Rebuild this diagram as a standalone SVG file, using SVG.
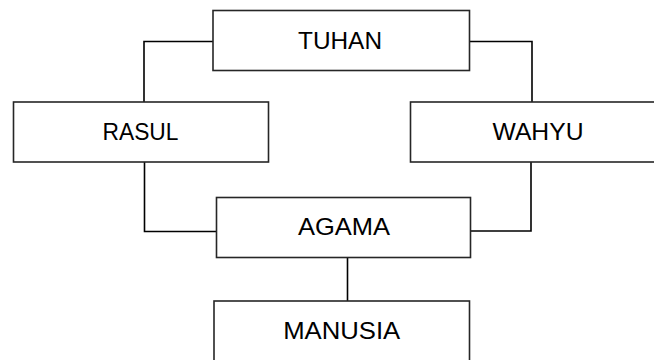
<svg xmlns="http://www.w3.org/2000/svg" width="654" height="360" viewBox="0 0 654 360">
  <style>
    .box { fill: #ffffff; stroke: #262626; stroke-width: 1.6; }
    .lbl { font-family: "Liberation Sans", Arial, sans-serif; font-size: 24px; fill: #000000; text-anchor: middle; }
    .wire { fill: none; stroke: #000000; stroke-width: 1.6; }
  </style>
  <rect width="654" height="360" fill="#ffffff"/>

  <!-- connectors -->
  <g id="connectors">
    <path class="wire" d="M213,41.5 H144 V102"/>
    <path class="wire" d="M469.5,41.5 H532 V102"/>
    <path class="wire" d="M144.5,162 V231.5 H216.5"/>
    <path class="wire" d="M531,162 V231 H470.5"/>
    <path class="wire" d="M347.5,257.5 V301"/>
  </g>

  <g id="tuhan">
    <rect class="box" x="213" y="10.5" width="256.5" height="60"/>
    <text class="lbl" x="340" y="48.5" textLength="84" lengthAdjust="spacingAndGlyphs">TUHAN</text>
  </g>

  <g id="rasul">
    <rect class="box" x="13.5" y="102" width="255" height="60"/>
    <text class="lbl" x="140.5" y="140" textLength="76" lengthAdjust="spacingAndGlyphs">RASUL</text>
  </g>

  <g id="wahyu">
    <rect class="box" x="410.5" y="102" width="260" height="60"/>
    <text class="lbl" x="538" y="140" textLength="91" lengthAdjust="spacingAndGlyphs">WAHYU</text>
  </g>

  <g id="agama">
    <rect class="box" x="216.5" y="197.5" width="254" height="60"/>
    <text class="lbl" x="344" y="234.5" textLength="92" lengthAdjust="spacingAndGlyphs">AGAMA</text>
  </g>

  <g id="manusia">
    <rect class="box" x="214" y="301" width="255.5" height="62"/>
    <text class="lbl" x="341.7" y="339" textLength="117" lengthAdjust="spacingAndGlyphs">MANUSIA</text>
  </g>
</svg>
